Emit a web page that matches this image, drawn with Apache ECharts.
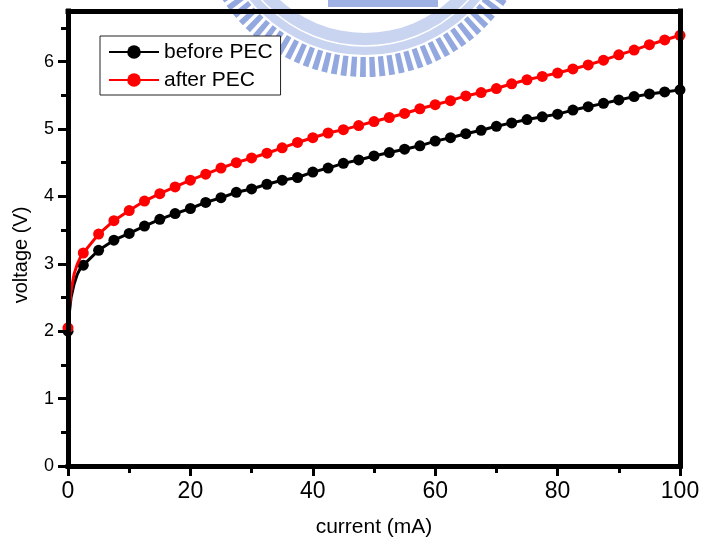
<!DOCTYPE html>
<html>
<head>
<meta charset="utf-8">
<script src="https://cdn.jsdelivr.net/npm/echarts@6/dist/echarts.min.js"></script>
<style>
  html, body { margin: 0; padding: 0; background: #fff; }
  #chart { width: 704px; height: 546px; }
</style>
</head>
<body>
<div id="chart"></div>
<script>
// Drive current (mA) at which each marker was recorded
const current = [0, 2.5, 5, 7.5, 10, 12.5, 15, 17.5, 20, 22.5, 25, 27.5, 30, 32.5, 35, 37.5,
  40, 42.5, 45, 47.5, 50, 52.5, 55, 57.5, 60, 62.5, 65, 67.5, 70, 72.5, 75, 77.5,
  80, 82.5, 85, 87.5, 90, 92.5, 95, 97.5, 100];

// Forward voltage (V) before the PEC treatment
const voltageBefore = [2.00, 2.98, 3.20, 3.35, 3.45, 3.56, 3.66, 3.745, 3.82, 3.91, 3.98, 4.06, 4.11, 4.18, 4.24, 4.28,
  4.36, 4.42, 4.49, 4.54, 4.60, 4.65, 4.70, 4.75, 4.82, 4.87, 4.93, 4.98, 5.04, 5.09, 5.14, 5.18,
  5.22, 5.28, 5.33, 5.38, 5.43, 5.48, 5.52, 5.55, 5.58];

// Forward voltage (V) after the PEC treatment
const voltageAfter = [2.05, 3.16, 3.44, 3.64, 3.79, 3.93, 4.04, 4.14, 4.24, 4.33, 4.42, 4.50, 4.57, 4.64, 4.72, 4.80,
  4.87, 4.94, 4.99, 5.05, 5.11, 5.17, 5.23, 5.30, 5.36, 5.42, 5.49, 5.54, 5.60, 5.67, 5.73, 5.78,
  5.83, 5.89, 5.95, 6.02, 6.10, 6.17, 6.25, 6.32, 6.39];

// Turn-on region, traced by the curve only (no markers)
const onsetCurrent = [0.25, 0.5, 1, 1.5, 2];
const onsetBefore = [2.30, 2.50, 2.70, 2.84, 2.93];
const onsetAfter = [2.35, 2.60, 2.85, 2.99, 3.09];

// Axis ticks
const yMajorTicks = [0, 1, 2, 3, 4, 5, 6];
const yMinorTicks = [0.5, 1.5, 2.5, 3.5, 4.5, 5.5, 6.5];

const FONT = 'Liberation Sans, Arial, sans-serif';

function buildSeriesData(values, onsetValues) {
  const pts = current.map((c, i) => ({ value: [c, values[i]] }));
  onsetCurrent.forEach((c, i) => pts.push({ value: [c, onsetValues[i]], symbol: 'none' }));
  pts.sort((a, b) => a.value[0] - b.value[0]);
  return pts;
}

// Faint gear-shaped emblem behind the plot
function emblem() {
  const cx = 365, cy = -93;
  const els = [];
  els.push({
    type: 'sector', z: -10, silent: true,
    shape: { cx, cy, r0: 126, r: 148, startAngle: 0, endAngle: Math.PI * 2 },
    style: { fill: '#c9d4f1' }
  });
  els.push({
    type: 'circle', z: -9, silent: true,
    shape: { cx, cy, r: 139 },
    style: { fill: 'none', stroke: '#ffffff', lineWidth: 1.5 }
  });
  els.push({
    type: 'rect', z: -9, silent: true,
    shape: { x: 328, y: 0, width: 110, height: 7 },
    style: { fill: '#9fb2e3' }
  });
  const step = 3.3 * Math.PI / 180;
  const half = 1.0 * Math.PI / 180;
  for (let a = 28 * Math.PI / 180; a <= 152 * Math.PI / 180; a += step) {
    els.push({
      type: 'sector', z: -10, silent: true,
      shape: { cx, cy, r0: 150, r: 170, startAngle: a - half, endAngle: a + half },
      style: { fill: '#93a8df' }
    });
  }
  return els;
}

const chart = echarts.init(document.getElementById('chart'), null, { renderer: 'canvas' });

const axisLineStyle = { color: '#000', width: 5, cap: 'square' };
const tickStyle = { color: '#000', width: 3 };

chart.setOption({
  animation: false,
  backgroundColor: '#fff',
  textStyle: { fontFamily: FONT },
  grid: { left: 68, right: 24, top: 11, bottom: 80, containLabel: false },
  legend: {
    orient: 'vertical',
    left: 100, top: 36,
    padding: [5, 8, 4, 8],
    itemGap: 6,
    itemWidth: 50,
    itemHeight: 17,
    borderColor: '#222',
    borderWidth: 1,
    backgroundColor: '#fff',
    textStyle: { fontSize: 21, color: '#000', fontFamily: FONT, lineHeight: 22 },
    data: ['before PEC', 'after PEC']
  },
  xAxis: [
    {
      type: 'value', min: 0, max: 100, interval: 20, position: 'bottom', z: 10,
      axisLine: { show: true, onZero: false, lineStyle: axisLineStyle },
      axisTick: { show: true, length: 10, lineStyle: tickStyle },
      minorTick: { show: true, splitNumber: 2, length: 7, lineStyle: tickStyle },
      splitLine: { show: false },
      axisLabel: { fontSize: 23, color: '#000', margin: 14, fontFamily: FONT },
      name: 'current (mA)', nameLocation: 'middle', nameGap: 51,
      nameTextStyle: { fontSize: 21, color: '#000', fontFamily: FONT }
    },
    {
      type: 'value', min: 0, max: 100, position: 'top', z: 10,
      axisLine: { show: true, onZero: false, lineStyle: axisLineStyle },
      axisTick: { show: false }, axisLabel: { show: false }, splitLine: { show: false }
    }
  ],
  yAxis: [
    {
      type: 'value', min: 0, max: 6.75, interval: 1, position: 'left', z: 10,
      axisLine: { show: true, onZero: false, lineStyle: axisLineStyle },
      axisTick: { show: true, length: 10, lineStyle: tickStyle, customValues: yMajorTicks },
      axisLabel: { fontSize: 18, color: '#000', margin: 14, fontFamily: FONT, customValues: yMajorTicks },
      splitLine: { show: false }
    },
    {
      type: 'value', min: 0, max: 6.75, interval: 0.5, position: 'left', z: 10,
      axisLine: { show: false },
      axisTick: { show: true, length: 7, lineStyle: tickStyle, customValues: yMinorTicks },
      axisLabel: { show: false },
      splitLine: { show: false }
    },
    {
      type: 'value', min: 0, max: 6.75, position: 'right', z: 10,
      axisLine: { show: true, onZero: false, lineStyle: axisLineStyle },
      axisTick: { show: false }, axisLabel: { show: false }, splitLine: { show: false }
    }
  ],
  graphic: emblem().concat([
    {
      type: 'text', x: 21, y: 255, rotation: Math.PI / 2, z: 20,
      style: { text: 'voltage (V)', fontSize: 20, fill: '#000', fontFamily: FONT,
               align: 'center', verticalAlign: 'middle' }
    }
  ]),
  series: [
    {
      name: 'before PEC', type: 'line', xAxisIndex: 0, yAxisIndex: 0,
      data: buildSeriesData(voltageBefore, onsetBefore),
      symbol: 'circle', symbolSize: 11, showAllSymbol: true,
      lineStyle: { color: '#000', width: 3 },
      itemStyle: { color: '#000' },
      z: 3
    },
    {
      name: 'after PEC', type: 'line', xAxisIndex: 0, yAxisIndex: 0,
      data: buildSeriesData(voltageAfter, onsetAfter),
      symbol: 'circle', symbolSize: 11, showAllSymbol: true,
      lineStyle: { color: '#ff0000', width: 3 },
      itemStyle: { color: '#ff0000' },
      z: 4
    }
  ]
});
</script>
</body>
</html>
